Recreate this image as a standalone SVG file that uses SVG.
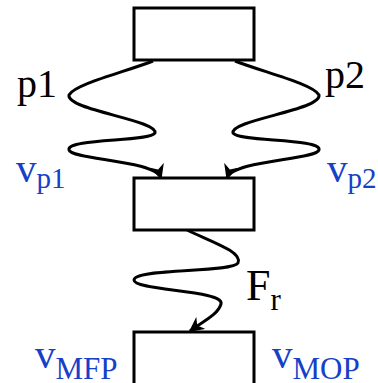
<svg xmlns="http://www.w3.org/2000/svg" width="378" height="383" viewBox="0 0 378 383">
<style>
.box{fill:#fff;stroke:#000;stroke-width:3}
.wire{fill:none;stroke:#000;stroke-width:3}
text{font-family:'Liberation Serif','Times New Roman','DejaVu Serif',serif}
.lbl{fill:#000}
.blue{fill:#1540c8}
</style>
<defs>
<marker id="arr" viewBox="0 0 10 10" refX="9" refY="5" markerWidth="5" markerHeight="5" orient="auto" markerUnits="strokeWidth">
<path d="M0,0 L10,5 L0,10 L3,5 Z" fill="#000"/>
</marker>
</defs>
<g id="connectors">
<path class="wire" marker-end="url(#arr)" d="M153,61 C125,72 75,84 69,95 C66,110 158,120 155,133 C150,142 66,138 69,150 C72,160 155,160 161,178"/>
<path class="wire" marker-end="url(#arr)" d="M235,61 C263,72 313,84 319,95 C322,110 230,120 233,133 C238,142 322,138 319,150 C316,160 233,160 227,178"/>
<path class="wire" marker-end="url(#arr)" d="M187,230 C212,242 243,252 238,263 C232,273 134,268 134,280 C134,291 225,290 221,304 C218,315 202,322 190,331"/>
</g>
<g id="node-top"><rect class="box" x="134" y="8" width="120" height="52"/></g>
<g id="node-mid"><rect class="box" x="134" y="178" width="120" height="52"/></g>
<g id="node-bottom"><rect class="box" x="134" y="332" width="120" height="60"/></g>
<g id="labels">
<text class="lbl" x="17" y="97" font-size="40">p1</text>
<text class="lbl" x="325" y="88" font-size="40">p2</text>
<text class="lbl" x="246" y="300" font-size="44">F<tspan font-size="31" dy="10">r</tspan></text>
<text class="blue" x="16" y="182" font-size="41">v<tspan font-size="29" dy="6">p1</tspan></text>
<text class="blue" x="327" y="182" font-size="41">v<tspan font-size="29" dy="6">p2</tspan></text>
<text class="blue" x="35" y="368" font-size="41">v<tspan font-size="31" dy="11">MFP</tspan></text>
<text class="blue" x="272" y="368" font-size="41">v<tspan font-size="31" dy="11">MOP</tspan></text>
</g>
</svg>
